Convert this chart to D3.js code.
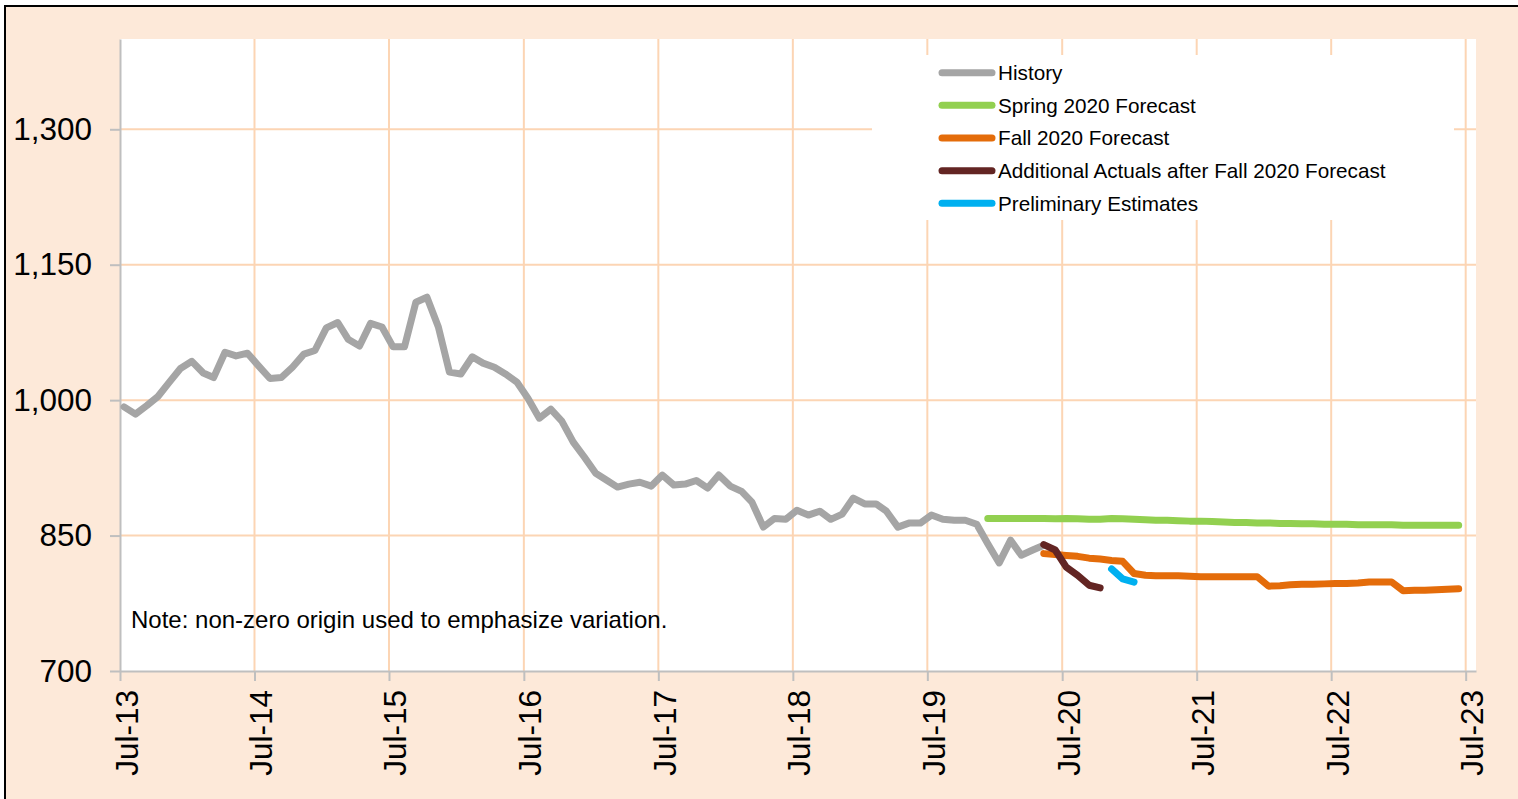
<!DOCTYPE html>
<html>
<head>
<meta charset="utf-8">
<script src="https://cdn.jsdelivr.net/npm/d3@7"></script>
<style>
  body { margin: 0; background: #ffffff; }
  svg { display: block; font-family: "Liberation Sans", Arial, sans-serif; }
</style>
</head>
<body>
<div id="chart"></div>
<script>
// monthly values, first month given by the *Start constant
const historyStart = "2013-07";
const historyValues = [
  992.6, 984.5, 994, 1004, 1020, 1035, 1043, 1030, 1025, 1053, 1049, 1052,
  1038, 1024, 1025, 1036.5, 1051, 1055, 1080, 1086, 1067.5, 1060, 1085, 1081,
  1059, 1059, 1108.5, 1114, 1081, 1031, 1029, 1048, 1041, 1036.5, 1029, 1020,
  1002, 980, 990, 976.8, 953.5, 937, 919, 911, 903.7, 907, 909, 904.8,
  917, 906, 907, 911, 902.6, 917, 904.8, 899, 887, 859.4, 869, 868,
  878, 872.7, 877, 868, 873.8, 891.5, 885, 885, 877, 859.4, 863.8, 863.8,
  872.7, 868, 867, 867, 862.6, 841, 819.7, 844.9, 828.2, 834, 839.3
];

const springStart = "2019-12";
const springValues = [
  869, 869, 869, 869, 869, 869, 868.5, 869, 868.5, 868, 868, 869, 868.5,
  868, 867.5, 867, 867, 866.5, 866, 866, 865.5, 865, 864.5, 864.5, 864,
  864, 863.5, 863.5, 863, 863, 862.5, 862.5, 862.5, 862, 862, 862, 862,
  861.5, 861.5, 861.5, 861.5, 861.5, 861.5
];

const fallStart = "2020-05";
const fallValues = [
  830, 829, 828, 827, 825, 824, 822.5, 821.5,
  808, 806, 805.5, 805.5, 805.5, 805, 804.5, 804.5, 804.5, 804.5, 804.5, 804.5,
  794, 794.5, 795.5, 796, 796, 796.5, 797, 797, 797.5, 798.5, 798.5, 798.5,
  789, 789.5, 789.5, 790, 790.5, 791
];

const actualsStart = "2020-05";
const actualsValues = [840, 834, 815, 806, 795, 792];

const prelimStart = "2020-11";
const prelimValues = [813, 802, 798.5];

const seriesNames = [
  "History",
  "Spring 2020 Forecast",
  "Fall 2020 Forecast",
  "Additional Actuals after Fall 2020 Forecast",
  "Preliminary Estimates"
];
const seriesColors = ["#a5a5a5", "#92d050", "#e46c0a", "#632523", "#00b0f0"];

const yTicks = [700, 850, 1000, 1150, 1300];
const xTickLabels = ["Jul-13", "Jul-14", "Jul-15", "Jul-16", "Jul-17", "Jul-18",
                     "Jul-19", "Jul-20", "Jul-21", "Jul-22", "Jul-23"];

const noteText = "Note: non-zero origin used to emphasize variation.";

// ---------------------------------------------------------------
const W = 1518, H = 799;
const margin = {top: 39, right: 42, bottom: 128, left: 120};
const parseMonth = d3.timeParse("%Y-%m");
const parseTick = d3.timeParse("%b-%y");

// each monthly reading is placed at the 12th of its month
function toPoints(start, values) {
  const first = parseMonth(start);
  return values.map((v, i) => {
    const d = d3.timeMonth.offset(first, i);
    return {date: new Date(d.getFullYear(), d.getMonth(), 12), value: v};
  });
}

const series = [
  toPoints(historyStart, historyValues),
  toPoints(springStart, springValues),
  toPoints(fallStart, fallValues),
  toPoints(actualsStart, actualsValues),
  toPoints(prelimStart, prelimValues)
];

const tickDates = xTickLabels.map(parseTick);

const x = d3.scaleTime()
  .domain([tickDates[0], new Date(2023, 6, 29)])
  .range([margin.left, W - margin.right]);

const y = d3.scaleLinear()
  .domain([700, 1400])
  .range([H - margin.bottom, margin.top]);

const svg = d3.select("#chart")
  .append("svg")
  .attr("width", W)
  .attr("height", H);

// chart area background + border (cropped on right/bottom)
svg.append("rect")
  .attr("x", 5).attr("y", 6)
  .attr("width", W + 20).attr("height", H + 20)
  .attr("fill", "#fde9d9")
  .attr("stroke", "#000")
  .attr("stroke-width", 2);

// plot area
svg.append("rect")
  .attr("x", margin.left).attr("y", margin.top)
  .attr("width", W - margin.right - margin.left)
  .attr("height", H - margin.bottom - margin.top)
  .attr("fill", "#fff");

const gridColor = "#fcd5b4";

// horizontal gridlines
svg.append("g")
  .selectAll("line")
  .data(yTicks.slice(1))
  .join("line")
  .attr("x1", margin.left)
  .attr("x2", W - margin.right)
  .attr("y1", d => y(d))
  .attr("y2", d => y(d))
  .attr("stroke", gridColor)
  .attr("stroke-width", 2);

// vertical gridlines
svg.append("g")
  .selectAll("line")
  .data(tickDates.slice(1))
  .join("line")
  .attr("x1", d => x(d))
  .attr("x2", d => x(d))
  .attr("y1", margin.top)
  .attr("y2", H - margin.bottom)
  .attr("stroke", gridColor)
  .attr("stroke-width", 2);

// legend box sits on top of the gridlines
const legendBox = {x: 872, y: 55, w: 582, h: 165};
svg.append("rect")
  .attr("x", legendBox.x).attr("y", legendBox.y)
  .attr("width", legendBox.w).attr("height", legendBox.h)
  .attr("fill", "#fff");

// axes
const axisColor = "#bfbfbf";

const xAxis = svg.append("g")
  .attr("transform", `translate(0,${H - margin.bottom})`)
  .call(d3.axisBottom(x)
    .tickValues(tickDates)
    .tickFormat(d3.timeFormat("%b-%y"))
    .tickSize(10)
    .tickSizeOuter(0));

xAxis.select(".domain").attr("stroke", axisColor).attr("stroke-width", 2);
xAxis.selectAll(".tick line").attr("stroke", axisColor).attr("stroke-width", 2);
xAxis.selectAll(".tick text")
  .attr("transform", "rotate(-90)")
  .attr("x", -19)
  .attr("y", 17)
  .attr("dy", 0)
  .style("text-anchor", "end")
  .style("font-size", "31.5px")
  .style("font-family", "'Liberation Sans', Arial, sans-serif")
  .attr("fill", "#000");

const yAxis = svg.append("g")
  .attr("transform", `translate(${margin.left},0)`)
  .call(d3.axisLeft(y)
    .tickValues(yTicks)
    .tickFormat(d3.format(","))
    .tickSize(10)
    .tickPadding(18)
    .tickSizeOuter(0));

yAxis.select(".domain").attr("stroke", axisColor).attr("stroke-width", 2);
yAxis.selectAll(".tick line").attr("stroke", axisColor).attr("stroke-width", 2);
yAxis.selectAll(".tick text")
  .style("font-size", "31.5px")
  .style("font-family", "'Liberation Sans', Arial, sans-serif")
  .attr("fill", "#000");

// lines
const line = d3.line()
  .x(d => x(d.date))
  .y(d => y(d.value));

svg.append("g")
  .selectAll("path")
  .data(series)
  .join("path")
  .attr("d", line)
  .attr("fill", "none")
  .attr("stroke", (d, i) => seriesColors[i])
  .attr("stroke-width", 7)
  .attr("stroke-linejoin", "round")
  .attr("stroke-linecap", "round");

// legend
const legend = svg.append("g")
  .attr("transform", "translate(942,72.7)");

seriesNames.forEach((name, i) => {
  const item = legend.append("g")
    .attr("transform", `translate(0,${i * 32.65})`);

  item.append("line")
    .attr("x1", 0).attr("x2", 50)
    .attr("y1", 0).attr("y2", 0)
    .attr("stroke", seriesColors[i])
    .attr("stroke-width", 7)
    .attr("stroke-linecap", "round");

  item.append("text")
    .attr("x", 56)
    .attr("y", 0)
    .attr("dy", "0.35em")
    .style("font-size", "20.7px")
    .attr("fill", "#000")
    .text(name);
});

// note
svg.append("text")
  .attr("x", 131)
  .attr("y", 628)
  .style("font-size", "24px")
  .attr("fill", "#000")
  .text(noteText);
</script>
</body>
</html>
